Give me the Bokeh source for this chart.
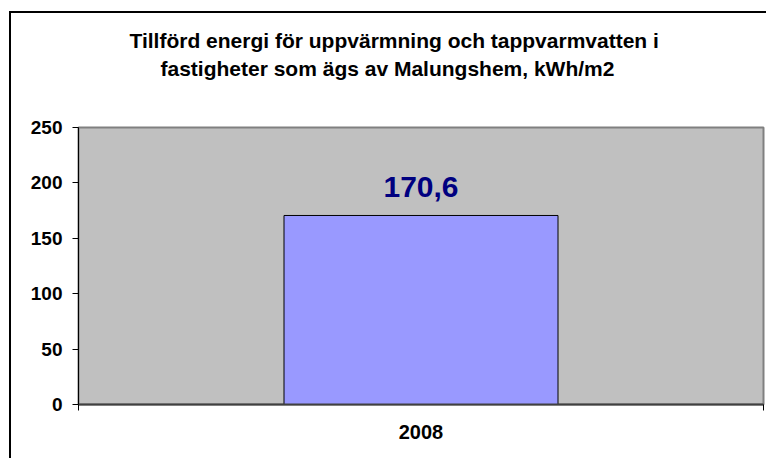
from bokeh.plotting import figure
from bokeh.layouts import column
from bokeh.models import Range1d, FixedTicker, ColumnDataSource
from bokeh.core.properties import value
from bokeh.embed import file_html
from bokeh.resources import INLINE

# data
categories = ["2008"]
values = [170.6]
value_labels = ["170,6"]
y_ticks = [0, 50, 100, 150, 200, 250]
title_lines = ["Tillförd energi för uppvärmning och tappvarmvatten i",
               "fastigheter som ägs av Malungshem, kWh/m2"]

W = 757
TH = 102          # height of the title strip
H = 345           # height of the chart part
FL = 67           # frame left inside the canvas
FW = 685          # frame width

# ---- title strip: its frame is aligned with the chart frame by the column,
# so x runs in page pixels from the frame's left (78) to its right (763) ----
tf = figure(width=W, height=TH, output_backend="svg", toolbar_location=None,
            x_range=Range1d(78, 78 + FW), y_range=Range1d(TH, 0),
            x_axis_location=None, y_axis_location=None, min_border=0)
tf.grid.visible = False
tf.outline_line_color = None
tf.background_fill_color = "white"
tf.border_fill_color = "white"
tsrc = ColumnDataSource(dict(x=[129, 160], y=[27, 55], t=title_lines))
tf.text(x="x", y="y", text="t", source=tsrc, text_align="left",
        text_baseline="alphabetic", text_color="black",
        text_font=value("Liberation Sans"), text_font_style="bold", text_font_size="21px")

# ---- chart ----
p = figure(width=W, height=H, output_backend="svg", toolbar_location=None,
           x_range=Range1d(0, len(categories)), y_range=Range1d(0, 250),
           min_border_left=FL, min_border_right=W - FL - FW, min_border_top=12,
           min_border_bottom=H - 12 - 277)
p.background_fill_color = "#C0C0C0"
p.border_fill_color = "white"
p.outline_line_color = "#808080"
p.outline_line_width = 2
p.grid.visible = False

xs = [i + 0.5 for i in range(len(categories))]
src = ColumnDataSource(dict(x=xs, top=values, lab=value_labels))
p.vbar(x="x", top="top", bottom=0, width=0.4, source=src,
       fill_color="#9999FF", line_color="black", line_width=1)
p.text(x="x", y="top", text="lab", source=src, text_align="center",
       text_baseline="alphabetic", y_offset=-28, text_color="#000080",
       text_font=value("Liberation Sans"), text_font_style="bold", text_font_size="30px")

# y axis
ya = p.yaxis[0]
ya.ticker = FixedTicker(ticks=y_ticks)
ya.axis_line_color = "black"
ya.major_tick_out = 6
ya.major_tick_in = 0
ya.minor_tick_line_color = None
ya.major_label_standoff = 10
ya.major_label_text_font = "Liberation Sans"
ya.major_label_text_font_style = "bold"
ya.major_label_text_font_size = "19px"
ya.major_label_text_color = "black"

# x axis
xa = p.xaxis[0]
xa.ticker = FixedTicker(ticks=xs, minor_ticks=list(range(len(categories) + 1)))
xa.major_label_overrides = {x: c for x, c in zip(xs, categories)}
xa.axis_line_color = "#404040"
xa.axis_line_width = 2
xa.major_tick_line_color = None
xa.major_tick_out = 0
xa.major_tick_in = 0
xa.minor_tick_line_color = "black"
xa.minor_tick_out = 6
xa.minor_tick_in = 0
xa.major_label_standoff = 14
xa.major_label_text_font = "Liberation Sans"
xa.major_label_text_font_style = "bold"
xa.major_label_text_font_size = "20px"
xa.major_label_text_color = "black"

# outer chart border (left and top only) drawn as a shadow so it does not change the size
layout = column(tf, p, spacing=0, margin=(13, 0, 0, 11),
                styles={"box-shadow": "-2px -2px 0 0 black"})

open("out.html", "w").write(file_html(layout, INLINE))
